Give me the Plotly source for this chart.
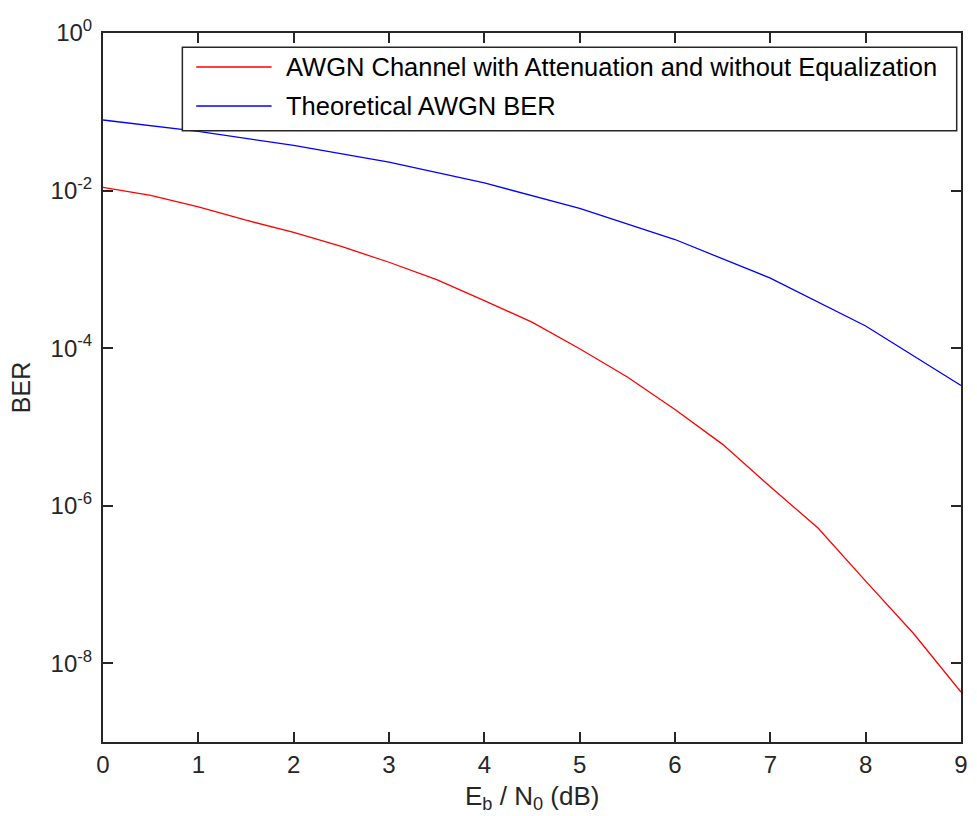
import plotly.graph_objects as go

# Eb/N0 grid (dB)
ebn0_sim = [0, 0.5, 1, 1.5, 2, 2.5, 3, 3.5, 4, 4.5, 5, 5.5, 6, 6.5, 7, 7.5, 8, 8.5, 9]
ber_sim = [1.10e-2, 8.7e-3, 6.2e-3, 4.2e-3, 2.95e-3, 1.95e-3, 1.23e-3, 7.4e-4,
           4.0e-4, 2.14e-4, 9.8e-5, 4.3e-5, 1.66e-5, 6.0e-6, 1.74e-6, 5.2e-7,
           1.10e-7, 2.4e-8, 4.3e-9]

ebn0_theory = [0, 1, 2, 3, 4, 5, 6, 7, 8, 9]
ber_theory = [7.86e-2, 5.63e-2, 3.75e-2, 2.29e-2, 1.25e-2, 5.95e-3, 2.39e-3,
              7.73e-4, 1.91e-4, 3.36e-5]

series_names = ["AWGN Channel with Attenuation and without Equalization",
                "Theoretical AWGN BER"]
series_colors = ["#ff0000", "#0000ff"]

x_ticks = [0, 1, 2, 3, 4, 5, 6, 7, 8, 9]
y_tick_vals = [1e0, 1e-2, 1e-4, 1e-6, 1e-8]
y_tick_text = ["10<sup>0</sup>", "10<sup>-2</sup>", "10<sup>-4</sup>",
               "10<sup>-6</sup>", "10<sup>-8</sup>"]

FONT = "Liberation Sans, Arial, sans-serif"
INK = "#262626"

fig = go.Figure()
fig.add_trace(go.Scatter(x=ebn0_sim, y=ber_sim, mode="lines", name=series_names[0],
                         line=dict(color=series_colors[0], width=1.3)))
fig.add_trace(go.Scatter(x=ebn0_theory, y=ber_theory, mode="lines", name=series_names[1],
                         line=dict(color=series_colors[1], width=1.3)))

axis_common = dict(showline=True, linecolor=INK, linewidth=2, mirror="ticks",
                   ticks="inside", ticklen=10, tickwidth=1.5, tickcolor=INK,
                   showgrid=False, zeroline=False,
                   tickfont=dict(family=FONT, size=24, color=INK))

fig.update_xaxes(range=[0, 9], tickvals=x_ticks, **axis_common)
fig.update_yaxes(type="log", range=[-9, 0], tickvals=y_tick_vals,
                 ticktext=y_tick_text, ticklabelstandoff=4, **axis_common)

# legend box drawn in plot-area coordinates
shapes = [dict(type="rect", xref="paper", yref="paper", x0=0.0925, x1=0.995,
               y0=0.862, y1=0.980, line=dict(color=INK, width=1.5),
               fillcolor="white", layer="above")]
annotations = []
row_y = [0.952, 0.897]
for name, color, yy in zip(series_names, series_colors, row_y):
    shapes.append(dict(type="line", xref="paper", yref="paper", x0=0.1087, x1=0.1965,
                       y0=yy, y1=yy, line=dict(color=color, width=1.5), layer="above"))
    annotations.append(dict(text=name, xref="paper", yref="paper", x=0.2104, y=yy,
                            xanchor="left", yanchor="middle", showarrow=False,
                            font=dict(family=FONT, size=25.5, color="#000000")))

annotations.append(dict(text="E<sub>b</sub> / N<sub>0</sub> (dB)", xref="paper", yref="paper",
                        x=0.5, y=-0.0776, xanchor="center", yanchor="middle",
                        showarrow=False, font=dict(family=FONT, size=26, color=INK)))
annotations.append(dict(text="BER", xref="paper", yref="paper", x=-0.096, y=0.5,
                        xanchor="center", yanchor="middle", textangle=-90,
                        showarrow=False, font=dict(family=FONT, size=25, color=INK)))

fig.update_layout(width=977, height=816, showlegend=False,
                  margin=dict(l=103, r=9, t=33, b=74),
                  paper_bgcolor="white", plot_bgcolor="white",
                  shapes=shapes, annotations=annotations)

fig.write_html("out.html")
